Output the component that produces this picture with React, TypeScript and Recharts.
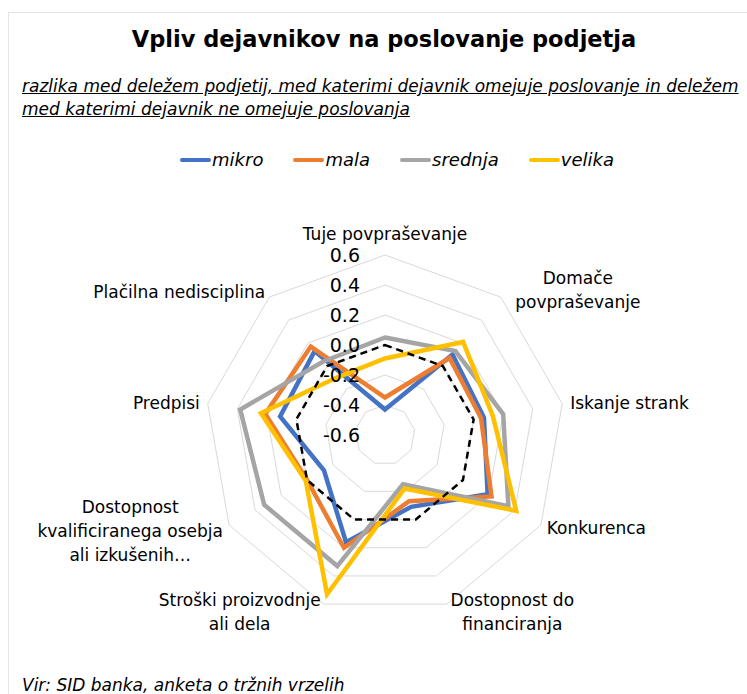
import React from 'react';
import { RadarChart, Radar, PolarGrid, PolarAngleAxis, PolarRadiusAxis } from 'recharts';

// dejavniki (v smeri urinega kazalca od vrha)
const dejavniki = [
  'Tuje povpraševanje',
  'Domače povpraševanje',
  'Iskanje strank',
  'Konkurenca',
  'Dostopnost do financiranja',
  'Stroški proizvodnje ali dela',
  'Dostopnost kvalificiranega osebja ali izkušenih…',
  'Predpisi',
  'Plačilna nedisciplina',
];

const vrstice = [
  ['Tuje povpraševanje'],
  ['Domače', 'povpraševanje'],
  ['Iskanje strank'],
  ['Konkurenca'],
  ['Dostopnost do', 'financiranja'],
  ['Stroški proizvodnje', 'ali dela'],
  ['Dostopnost', 'kvalificiranega osebja', 'ali izkušenih…'],
  ['Predpisi'],
  ['Plačilna nedisciplina'],
];

const mikro = [-0.43, 0.1, 0.07, 0.19, -0.09, 0.16, -0.13, 0.11, 0.13];
const mala = [-0.35, 0.07, 0.05, 0.22, -0.13, 0.2, 0.0, 0.21, 0.17];
const srednja = [0.05, 0.13, 0.2, 0.35, -0.25, 0.33, 0.33, 0.38, 0.04];
const velika = [-0.09, 0.21, 0.13, 0.41, -0.22, 0.53, 0.01, 0.24, -0.1];
const nic = [0, 0, 0, 0, 0, 0, 0, 0, 0];

const data = dejavniki.map((d, i) => ({
  dejavnik: d,
  mikro: mikro[i],
  mala: mala[i],
  srednja: srednja[i],
  velika: velika[i],
  nic: nic[i],
}));

const serije = [
  { key: 'mikro', color: '#4472C4' },
  { key: 'mala', color: '#ED7D31' },
  { key: 'srednja', color: '#A5A5A5' },
  { key: 'velika', color: '#FFC000' },
];

const FONT = '"DejaVu Sans", Verdana, sans-serif';

// odmiki oznak od konca osi
const postavitev = [
  { anchor: 'middle', dx: 0, dy: -13 },
  { anchor: 'middle', dx: 72, dy: -13 },
  { anchor: 'start', dx: 0, dy: 1 },
  { anchor: 'start', dx: -1, dy: -1 },
  { anchor: 'middle', dx: 63, dy: -12 },
  { anchor: 'middle', dx: -81, dy: -12 },
  { anchor: 'middle', dx: -92, dy: -22 },
  { anchor: 'end', dx: 0, dy: 1 },
  { anchor: 'end', dx: 1, dy: 1 },
];

const AngleTick = (props: any) => {
  const { x, y, payload } = props;
  const i = dejavniki.indexOf(payload.value);
  const p = postavitev[i];
  return (
    <text
      x={x + p.dx}
      y={y + p.dy}
      textAnchor={p.anchor}
      dominantBaseline="central"
      fontSize={17}
      fontFamily={FONT}
      fill="#000"
    >
      {vrstice[i].map((l, k) => (
        <tspan key={k} x={x + p.dx} dy={k === 0 ? 0 : 24}>
          {l}
        </tspan>
      ))}
    </text>
  );
};

const RadiusTick = (props: any) => {
  const { x, y, payload } = props;
  const v = Math.abs(payload.value) < 1e-9 ? 0 : payload.value;
  return (
    <text x={x - 25} y={y} textAnchor="end" dominantBaseline="central" fontSize={19} fontFamily={FONT} fill="#000">
      {v.toFixed(1)}
    </text>
  );
};

export default function App() {
  return (
    <div
      style={{
        position: 'absolute',
        left: 0,
        top: 0,
        width: 747,
        height: 694,
        background: '#fff',
        overflow: 'hidden',
        fontFamily: FONT,
        color: '#000',
      }}
    >
      <div
        style={{
          position: 'absolute',
          left: 8,
          top: 12,
          width: 900,
          height: 900,
          border: '1px solid #e3e3e3',
        }}
      />
      <div
        style={{
          position: 'absolute',
          left: 0,
          top: 26,
          width: 768,
          textAlign: 'center',
          fontSize: 22.5,
          fontWeight: 'bold',
        }}
      >
        Vpliv dejavnikov na poslovanje podjetja
      </div>
      <div
        style={{
          position: 'absolute',
          left: 22,
          top: 75,
          width: 740,
          fontSize: 17,
          fontStyle: 'italic',
          lineHeight: '23px',
          textDecoration: 'underline',
        }}
      >
        razlika med deležem podjetij, med katerimi dejavnik omejuje poslovanje in deležem
        <br />
        med katerimi dejavnik ne omejuje poslovanja
      </div>
      <div
        style={{
          position: 'absolute',
          left: 0,
          top: 149,
          width: 794,
          display: 'flex',
          justifyContent: 'center',
          fontSize: 18,
          fontStyle: 'italic',
        }}
      >
        {serije.map((s) => (
          <div key={s.key} style={{ display: 'flex', alignItems: 'center', margin: '0 15px' }}>
            <div style={{ width: 31, height: 4, background: s.color, borderRadius: 2, marginRight: 1 }} />
            <span>{s.key}</span>
          </div>
        ))}
      </div>
      <div
        style={{
          position: 'absolute',
          left: 22,
          top: 675,
          fontSize: 17,
          fontStyle: 'italic',
          whiteSpace: 'nowrap',
        }}
      >
        Vir: SID banka, anketa o tržnih vrzelih
      </div>
      <div style={{ position: 'absolute', left: 0, top: 0 }}>
        <RadarChart
          width={747}
          height={694}
          data={data}
          cx={385}
          cy={435}
          outerRadius={180}
          margin={{ top: 0, right: 0, bottom: 0, left: 0 }}
        >
          <PolarGrid gridType="polygon" radialLines={false} stroke="#d9d9d9" />
          <PolarAngleAxis dataKey="dejavnik" tick={<AngleTick />} tickLine={false} axisLine={false} />
          <PolarRadiusAxis
            angle={90}
            type="number"
            domain={[-0.6, 0.6]}
            allowDataOverflow={true}
            allowDecimals={true}
            tickCount={7}
            tick={<RadiusTick />}
            axisLine={false}
            tickLine={false}
          />
          {serije.map((s) => (
            <Radar
              key={s.key}
              name={s.key}
              dataKey={s.key}
              stroke={s.color}
              strokeWidth={4.5}
              fill="none"
              fillOpacity={0}
              dot={false}
              isAnimationActive={false}
            />
          ))}
          <Radar
            name="nic"
            dataKey="nic"
            stroke="#000"
            strokeWidth={2.5}
            strokeDasharray="7 5"
            fill="none"
            fillOpacity={0}
            dot={false}
            legendType="none"
            isAnimationActive={false}
          />
        </RadarChart>
      </div>
    </div>
  );
}
